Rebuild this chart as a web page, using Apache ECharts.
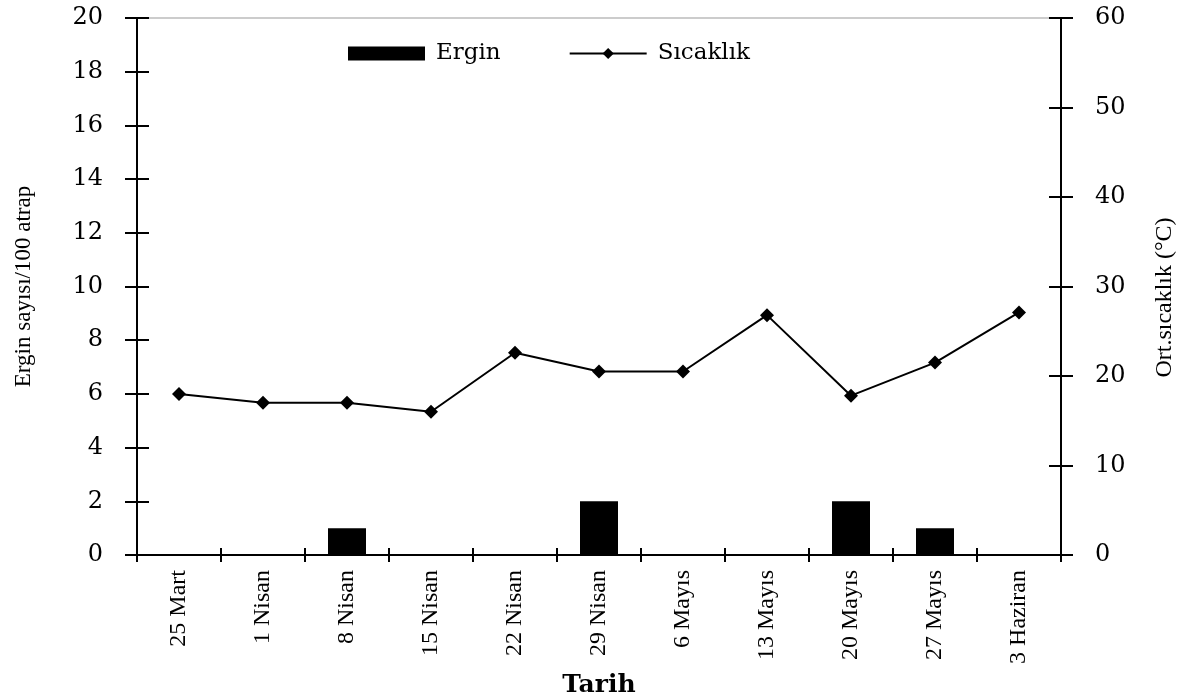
<!DOCTYPE html>
<html><head><meta charset="utf-8">
<script src="https://cdn.jsdelivr.net/npm/echarts@6/dist/echarts.min.js"></script>
<style>html,body{margin:0;padding:0;background:#fff}#c{width:1186px;height:698px}</style>
</head><body><div id="c"></div>
<script>
const categories = ['25 Mart','1 Nisan','8 Nisan','15 Nisan','22 Nisan','29 Nisan','6 Mayıs','13 Mayıs','20 Mayıs','27 Mayıs','3 Haziran'];
const ergin = [0,0,1,0,0,2,0,0,2,1,0];
const sicaklik = [18,17,17,16,22.6,20.5,20.5,26.8,17.8,21.5,27.1];
const leftTicks = [0,2,4,6,8,10,12,14,16,18,20];
const rightTicks = [0,10,20,30,40,50,60];

const F = '"Liberation Serif", "Times New Roman", serif';
const W = '"DejaVu Serif", serif';
const chart = echarts.init(document.getElementById('c'));
const axisLine = {show:true, lineStyle:{color:'#000', width:2}};
chart.setOption({
  backgroundColor:'#fff',
  animation:false,
  grid:{left:137, right:125, top:18, bottom:143, containLabel:false, outerBoundsMode:'none',
        show:true, borderColor:'#999', borderWidth:1},
  legend:{
    left:343, top:37, itemWidth:77, itemHeight:14, itemGap:68,
    textStyle:{fontFamily:W, fontSize:23, color:'#000', padding:[0,0,0,6]},
    data:[{name:'Ergin', icon:'rect'}, {name:'Sıcaklık'}]
  },
  xAxis:[{
    type:'category', data:categories, boundaryGap:true,
    axisLine:axisLine,
    axisTick:{show:true, length:7, lineStyle:{color:'#000', width:2}},
    axisLabel:{rotate:90, fontFamily:F, fontSize:24, color:'#000', margin:15},
    name:'Tarih', nameLocation:'middle', nameGap:118,
    nameTextStyle:{fontFamily:W, fontSize:25, fontWeight:'bold', color:'#000'},
    splitLine:{show:false}
  },{
    type:'category', data:categories, boundaryGap:true, position:'bottom',
    axisLine:{show:false}, axisLabel:{show:false},
    axisTick:{show:true, inside:true, length:7, lineStyle:{color:'#000', width:2}}
  }],
  yAxis:[{
    type:'value', min:0, max:20, interval:2, position:'left',
    axisLine:axisLine,
    axisTick:{show:true, length:12, lineStyle:{color:'#000', width:2}},
    axisLabel:{fontFamily:W, fontSize:24, color:'#000', margin:34},
    splitLine:{show:false},
    name:'Ergin sayısı/100 atrap', nameLocation:'middle', nameGap:102,
    nameTextStyle:{fontFamily:F, fontSize:23, color:'#000'}
  },{
    type:'value', min:0, max:60, interval:10, position:'right',
    axisLine:axisLine,
    axisTick:{show:true, length:12, lineStyle:{color:'#000', width:2}},
    axisLabel:{fontFamily:W, fontSize:24, color:'#000', margin:34},
    splitLine:{show:false},
    name:'Ort.sıcaklık (°C)', nameLocation:'middle', nameGap:92, nameRotate:90,
    nameTextStyle:{fontFamily:F, fontSize:24, color:'#000', padding:[0,22,0,0]}
  },{
    type:'value', min:0, max:20, interval:2, position:'left',
    axisLine:{show:false}, axisLabel:{show:false}, splitLine:{show:false},
    axisTick:{show:true, inside:true, length:12, lineStyle:{color:'#000', width:2}}
  },{
    type:'value', min:0, max:60, interval:10, position:'right',
    axisLine:{show:false}, axisLabel:{show:false}, splitLine:{show:false},
    axisTick:{show:true, inside:true, length:12, lineStyle:{color:'#000', width:2}}
  }],
  series:[{
    name:'Ergin', type:'bar', data:ergin, xAxisIndex:0, yAxisIndex:0,
    barWidth:38, itemStyle:{color:'#000'}
  },{
    name:'Sıcaklık', type:'line', data:sicaklik, xAxisIndex:0, yAxisIndex:1,
    symbol:'diamond', symbolSize:14, z:5,
    lineStyle:{color:'#000', width:2}, itemStyle:{color:'#000'}
  }]
});
</script></body></html>
